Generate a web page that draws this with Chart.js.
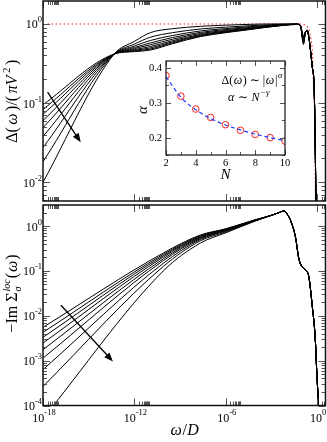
<!DOCTYPE html>
<html>
<head>
<meta charset="utf-8">
<script src="https://cdn.jsdelivr.net/npm/chart.js@4.4.1/dist/chart.umd.min.js"></script>
<style>
  html, body { margin: 0; padding: 0; background: #fff; }
  canvas { position: absolute; display: block; }
</style>
</head>
<body>
<canvas id="top" width="327" height="205" style="left:0;top:0;width:327px;height:205px"></canvas>
<canvas id="bottom" width="327" height="239" style="left:0;top:203px;width:327px;height:239px"></canvas>
<canvas id="inset" width="170" height="130" style="left:130px;top:50px;width:170px;height:130px"></canvas>
<script>
// --- upper panel: hybridization Delta(w)/(pi V^2), one curve per N = 2..10
const omegaLowTop = [1e-18, 4.7e-14, 1e-12, 1.1e-11, 3.16e-10, 2.1e-8, 1e-6, 4e-5, 1e-3, 0.048];
const deltaN2  = [0.0100, 0.417, 0.603, 0.776, 0.871, 0.933, 0.966, 0.989, 1.000, 1.000];
const deltaN3  = [0.0182, 0.417, 0.557, 0.679, 0.776, 0.863, 0.912, 0.951, 0.980, 0.998];
const deltaN4  = [0.0275, 0.417, 0.526, 0.618, 0.714, 0.815, 0.875, 0.925, 0.964, 0.996];
const deltaN5  = [0.0380, 0.417, 0.505, 0.575, 0.673, 0.782, 0.849, 0.906, 0.953, 0.994];
const deltaN6  = [0.0490, 0.417, 0.489, 0.545, 0.641, 0.757, 0.828, 0.889, 0.944, 0.992];
const deltaN7  = [0.0603, 0.417, 0.474, 0.518, 0.614, 0.735, 0.811, 0.877, 0.938, 0.990];
const deltaN8  = [0.0724, 0.417, 0.463, 0.498, 0.593, 0.718, 0.798, 0.867, 0.931, 0.988];
const deltaN9  = [0.0832, 0.417, 0.455, 0.482, 0.577, 0.705, 0.787, 0.859, 0.927, 0.986];
const deltaN10 = [0.0955, 0.417, 0.447, 0.468, 0.562, 0.692, 0.776, 0.851, 0.923, 0.985];
// shared high-energy part (null = dip value of each curve)
const tailOmegaTop = [0.079, 0.126, 0.17, 0.22, 0.28, 0.36, 0.47, 0.6, 0.66, 0.75, 0.83];
const tailDeltaTop = [0.95, null, 0.79, 0.83, 0.69, 0.47, 0.29, 0.195, 0.11, 0.025, 0.005];
const dipTop = [0.55, 0.57, 0.59, 0.61, 0.63, 0.65, 0.67, 0.69, 0.71];
// red dotted reference
const omegaRef = [2e-18, 0.08, 0.2, 0.3, 0.36, 0.47, 0.55, 0.66, 0.77];
const deltaRef = [1.0, 1.0, 0.95, 0.82, 0.69, 0.47, 0.2, 0.08, 0.005];

// --- lower panel: -Im Sigma
const omegaLowBot = [1e-18, 7.9e-11, 2.1e-8, 1e-6, 8.3e-5];
const sigmaN2  = [5.13e-5, 0.100, 0.417, 0.708, 1.288];
const sigmaN3  = [2.66e-4, 0.126, 0.468, 0.741, 1.306];
const sigmaN4  = [6.3e-4, 0.148, 0.501, 0.776, 1.321];
const sigmaN5  = [1.14e-3, 0.170, 0.525, 0.794, 1.334];
const sigmaN6  = [1.76e-3, 0.186, 0.550, 0.813, 1.343];
const sigmaN7  = [2.47e-3, 0.204, 0.569, 0.832, 1.352];
const sigmaN8  = [3.31e-3, 0.219, 0.589, 0.851, 1.361];
const sigmaN9  = [4.28e-3, 0.234, 0.610, 0.861, 1.371];
const sigmaN10 = [5.53e-3, 0.251, 0.631, 0.871, 1.380];
const tailOmegaBot = [1e-3, 3.16e-3, 6e-3, 8e-3, 0.0112, 0.0174, 0.0372, 0.0617, 0.102, 0.17, 0.282, 0.468, 0.741, 0.933, 1.23];
const tailSigmaBot = [1.74, 2.0, 2.16, 2.1, 1.8, 1.36, 0.575, 0.19, 0.123, 0.105, 0.074, 0.017, 0.00316, 0.000575, 0.0000955];

// --- inset: exponent alpha vs N
const nValues = [2, 3, 4, 5, 6, 7, 8, 9, 10];
const alphaValues = [0.378, 0.319, 0.282, 0.258, 0.237, 0.221, 0.209, 0.200, 0.190];
const alphaFit = [0.375, 0.316, 0.280, 0.255, 0.236, 0.222, 0.210, 0.200, 0.191];

// tick labels (powers of ten)
const xTickExp = [-18, -12, -6, 0];
const topYTickExp = [-2, -1, 0];
const botYTickExp = [-4, -3, -2, -1, 0];
const insetXTicks = [2, 4, 6, 8, 10];
const insetYTicks = [0.2, 0.3, 0.4];

// arrows, in data coordinates
const arrowTop = [[2.0e-18, 0.138], [3.0e-16, 0.032]];
const arrowBot = [[1.5e-17, 0.0172], [3.9e-14, 0.00096]];

const FONT = 'Liberation Serif, DejaVu Serif, serif';
const T = (t, s, i, dy, noAdv) => ({ t, s, i, dy, noAdv });

// draws mixed text (italic, superscript...) with baseline at (x,y)
function rich(ctx, parts, x, y, align, angle, spacing) {
  ctx.save();
  ctx.translate(x, y);
  if (angle) ctx.rotate(angle);
  ctx.textAlign = 'left';
  ctx.textBaseline = 'alphabetic';
  ctx.fillStyle = '#000';
  const sp = spacing || 0;
  let w = 0;
  const adv = parts.map(p => {
    ctx.font = (p.i ? 'italic ' : '') + p.s + 'px ' + FONT;
    const m = p.noAdv ? 0 : ctx.measureText(p.t).width + sp;
    w += m;
    return m;
  });
  let cx = align === 'center' ? -w / 2 : align === 'right' ? -w : 0;
  parts.forEach((p, k) => {
    ctx.font = (p.i ? 'italic ' : '') + p.s + 'px ' + FONT;
    ctx.fillText(p.t, cx, p.dy || 0);
    cx += adv[k];
  });
  ctx.restore();
}

function arrow(ctx, x0, y0, x1, y1) {
  const a = Math.atan2(y1 - y0, x1 - x0), h = 9, w = 3.5;
  const c = Math.cos(a), s = Math.sin(a);
  ctx.save();
  ctx.strokeStyle = '#000';
  ctx.fillStyle = '#000';
  ctx.lineWidth = 1.3;
  ctx.beginPath();
  ctx.moveTo(x0, y0);
  ctx.lineTo(x1 - h * 0.7 * c, y1 - h * 0.7 * s);
  ctx.stroke();
  ctx.beginPath();
  ctx.moveTo(x1, y1);
  ctx.lineTo(x1 - h * c + w * s, y1 - h * s - w * c);
  ctx.lineTo(x1 - h * c - w * s, y1 - h * s + w * c);
  ctx.closePath();
  ctx.fill();
  ctx.restore();
}

function logMinors(exps, min, max, all) {
  const out = [];
  const lo = Math.floor(Math.log10(min)), hi = Math.ceil(Math.log10(max));
  for (let k = lo; k <= hi; k++) {
    if (!all && !exps.includes(k)) continue;
    for (let m = 2; m <= 9; m++) {
      const v = m * Math.pow(10, k);
      if (v > min && v < max) out.push(v);
    }
  }
  return out;
}

// frame, inward ticks on all sides, tick labels, titles
const logFrame = {
  id: 'logFrame',
  afterDatasetsDraw(chart, args, o) {
    const ctx = chart.ctx, a = chart.chartArea, x = chart.scales.x, y = chart.scales.y;
    ctx.save();
    ctx.strokeStyle = '#555';
    ctx.lineWidth = 1;
    const tickX = (v, len) => {
      const p = Math.round(x.getPixelForValue(v)) + 0.5;
      ctx.beginPath();
      ctx.moveTo(p, a.bottom); ctx.lineTo(p, a.bottom - len);
      ctx.moveTo(p, a.top); ctx.lineTo(p, a.top + len);
      ctx.stroke();
    };
    const tickY = (v, len) => {
      const p = Math.round(y.getPixelForValue(v)) + 0.5;
      ctx.beginPath();
      ctx.moveTo(a.left, p); ctx.lineTo(a.left + len, p);
      ctx.moveTo(a.right, p); ctx.lineTo(a.right - len, p);
      ctx.stroke();
    };
    xTickExp.forEach(e => tickX(Math.pow(10, e), 7));
    logMinors(xTickExp, x.min, x.max, false).forEach(v => tickX(v, 4));
    o.yExp.forEach(e => tickY(Math.pow(10, e), 7));
    logMinors(o.yExp, y.min, y.max, true).forEach(v => tickY(v, 4));
    ctx.strokeStyle = '#111';
    ctx.lineWidth = 1.5;
    ctx.strokeRect(a.left, a.top, a.right - a.left, a.bottom - a.top);
    ctx.restore();
    o.yExp.forEach(e => {
      const p = y.getPixelForValue(Math.pow(10, e));
      rich(ctx, [T('10', 12), T(String(e), 8.5, 0, -6)], a.left - 1, p + 4.5, 'right');
    });
    if (o.xLabels) {
      xTickExp.forEach(e => {
        const p = x.getPixelForValue(Math.pow(10, e));
        rich(ctx, [T('10', 12), T(String(e), 8.5, 0, -7.5)], p + 1, a.bottom + 16.5, 'center');
      });
    }
    if (o.draw) o.draw(ctx, chart);
  }
};

function lineSet(points, color, width, dash) {
  return {
    data: points,
    borderColor: color,
    borderWidth: width,
    borderDash: dash || [],
    pointRadius: 0,
    fill: false,
    cubicInterpolationMode: 'monotone'
  };
}

const topCurves = [deltaN2, deltaN3, deltaN4, deltaN5, deltaN6, deltaN7, deltaN8, deltaN9, deltaN10];
const topSets = topCurves.map((vals, i) => {
  const pts = omegaLowTop.map((w, j) => ({ x: w, y: vals[j] }));
  tailOmegaTop.forEach((w, j) => pts.push({ x: w, y: tailDeltaTop[j] === null ? dipTop[i] : tailDeltaTop[j] }));
  return lineSet(pts, '#000', 1);
});
topSets.push(lineSet(omegaRef.map((w, j) => ({ x: w, y: deltaRef[j] })), '#ff2020', 1.1, [1.5, 2.5]));

const botCurves = [sigmaN2, sigmaN3, sigmaN4, sigmaN5, sigmaN6, sigmaN7, sigmaN8, sigmaN9, sigmaN10];
const botSets = botCurves.map(vals => {
  const pts = omegaLowBot.map((w, j) => ({ x: w, y: vals[j] }));
  tailOmegaBot.forEach((w, j) => pts.push({ x: w, y: tailSigmaBot[j] }));
  return lineSet(pts, '#000', 1);
});

function mainOptions(yMin, yMax, pad, frameOpts) {
  return {
    responsive: false,
    animation: false,
    layout: { padding: pad, autoPadding: false },
    plugins: { legend: { display: false }, tooltip: { enabled: false }, logFrame: frameOpts },
    scales: {
      x: { type: 'logarithmic', min: 1e-18, max: 3.5, display: false },
      y: { type: 'logarithmic', min: yMin, max: yMax, display: false }
    }
  };
}

new Chart(document.getElementById('top'), {
  type: 'line',
  data: { datasets: topSets },
  options: mainOptions(0.0058, 1.95, { left: 43, top: 1, right: 1.5, bottom: 4 }, {
    yExp: topYTickExp,
    xLabels: false,
    draw(ctx, chart) {
      const x = chart.scales.x, y = chart.scales.y;
      arrow(ctx, x.getPixelForValue(arrowTop[0][0]), y.getPixelForValue(arrowTop[0][1]),
        x.getPixelForValue(arrowTop[1][0]), y.getPixelForValue(arrowTop[1][1]));
      rich(ctx, [T('Δ(', 16), T('ω', 16, 1), T(')/(', 16), T('πV', 16, 1), T('2', 11, 0, -7), T(')', 16)],
        17, 100, 'center', -Math.PI / 2, 2.5);
    }
  }),
  plugins: [logFrame]
});

new Chart(document.getElementById('bottom'), {
  type: 'line',
  data: { datasets: botSets },
  options: mainOptions(1e-4, 2.95, { left: 43, top: 2, right: 1.5, bottom: 36.5 }, {
    yExp: botYTickExp,
    xLabels: true,
    draw(ctx, chart) {
      const x = chart.scales.x, y = chart.scales.y;
      arrow(ctx, x.getPixelForValue(arrowBot[0][0]), y.getPixelForValue(arrowBot[0][1]),
        x.getPixelForValue(arrowBot[1][0]), y.getPixelForValue(arrowBot[1][1]));
      rich(ctx, [T('−Im Σ', 16), T('σ', 10, 1, 4, true), T('loc', 10, 1, -7), T('(', 16), T('ω', 16, 1), T(')', 16)],
        17, 90, 'center', -Math.PI / 2, 1);
      rich(ctx, [T('ω', 16, 1), T('/', 16), T('D', 16, 1)], 185, 232, 'center', 0, 0.5);
    }
  }),
  plugins: [logFrame]
});

// inset frame and labels
const insetFrame = {
  id: 'insetFrame',
  afterDatasetsDraw(chart) {
    const ctx = chart.ctx, a = chart.chartArea, x = chart.scales.x, y = chart.scales.y;
    ctx.save();
    ctx.strokeStyle = '#555';
    ctx.lineWidth = 1;
    for (let n = 2; n <= 10; n++) {
      const p = Math.round(x.getPixelForValue(n)) + 0.5, len = n % 2 === 0 ? 5 : 3;
      ctx.beginPath();
      ctx.moveTo(p, a.bottom); ctx.lineTo(p, a.bottom - len);
      ctx.moveTo(p, a.top); ctx.lineTo(p, a.top + len);
      ctx.stroke();
    }
    [0.15, 0.2, 0.25, 0.3, 0.35, 0.4].forEach((v, k) => {
      const p = Math.round(y.getPixelForValue(v)) + 0.5, len = k % 2 === 1 ? 5 : 3;
      ctx.beginPath();
      ctx.moveTo(a.left, p); ctx.lineTo(a.left + len, p);
      ctx.moveTo(a.right, p); ctx.lineTo(a.right - len, p);
      ctx.stroke();
    });
    ctx.strokeStyle = '#111';
    ctx.lineWidth = 1.2;
    ctx.strokeRect(a.left, a.top, a.right - a.left, a.bottom - a.top);
    ctx.restore();
    insetXTicks.forEach(v => rich(ctx, [T(String(v), 10.5)], x.getPixelForValue(v), a.bottom + 11, 'center'));
    insetYTicks.forEach(v => rich(ctx, [T(v.toFixed(1), 10.5)], a.left - 4, y.getPixelForValue(v) + 3.5, 'right'));
    rich(ctx, [T('N', 15, 1)], (a.left + a.right) / 2, a.bottom + 24, 'center');
    rich(ctx, [T('α', 15, 1)], 17, (a.top + a.bottom) / 2 + 2, 'center', -Math.PI / 2);
    rich(ctx, [T('Δ(', 12), T('ω', 12, 1), T(') ∼ |', 12), T('ω', 12, 1), T('|', 12), T('α', 8.5, 1, -6)],
      a.right - 2, 34, 'right', 0, 0.6);
    rich(ctx, [T('α', 12, 1), T(' ∼ ', 12), T('N', 12, 1), T('−γ', 8.5, 1, -6)], 98, 51, 'left', 0, 0.6);
  }
};

new Chart(document.getElementById('inset'), {
  type: 'line',
  data: {
    datasets: [
      {
        data: nValues.map((n, j) => ({ x: n, y: alphaFit[j] })),
        borderColor: '#1f3cff', borderWidth: 1.2, borderDash: [4, 3],
        pointRadius: 0, fill: false, cubicInterpolationMode: 'monotone'
      },
      {
        data: nValues.map((n, j) => ({ x: n, y: alphaValues[j] })),
        showLine: false, pointRadius: 3.3, pointBorderWidth: 1,
        pointBorderColor: '#ff2020', pointBackgroundColor: 'rgba(0,0,0,0)'
      }
    ]
  },
  options: {
    responsive: false,
    animation: false,
    layout: { padding: { left: 36, top: 11, right: 15, bottom: 25 }, autoPadding: false },
    plugins: { legend: { display: false }, tooltip: { enabled: false } },
    scales: {
      x: { type: 'linear', min: 2, max: 10, display: false },
      y: { type: 'linear', min: 0.15, max: 0.42, display: false }
    }
  },
  plugins: [insetFrame]
});
</script>
</body>
</html>
